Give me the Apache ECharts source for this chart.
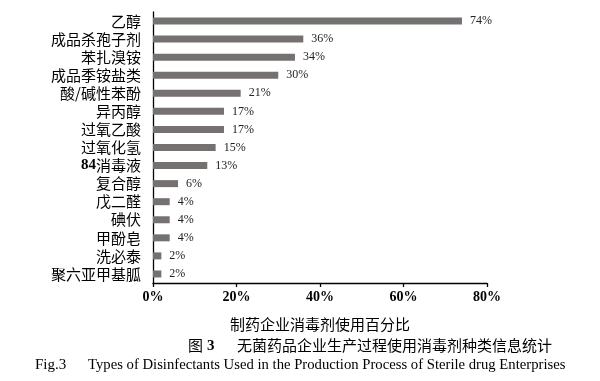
<!DOCTYPE html>
<html><head><meta charset="utf-8">
<script src="https://cdn.jsdelivr.net/npm/echarts@6/dist/echarts.min.js"></script>
<style>html,body{margin:0;padding:0;background:#fff}#c{width:600px;height:381px}</style>
</head><body><div id="c"></div>
<script>
const categories = ['乙醇','成品杀孢子剂','苯扎溴铵','成品季铵盐类','酸/碱性苯酚','异丙醇','过氧乙酸','过氧化氢','84消毒液','复合醇','戊二醛','碘伏','甲酚皂','洗必泰','聚六亚甲基胍'];
const values = [74,36,34,30,21,17,17,15,13,6,4,4,4,2,2];
const xTicks = [0,20,40,60,80];
const axisName = '制药企业消毒剂使用百分比';
const captionCn = '无菌药品企业生产过程使用消毒剂种类信息统计';
const captionEn = 'Types of Disinfectants Used in the Production Process of Sterile drug Enterprises';

const chart = echarts.init(document.getElementById('c'));
const cats = categories.slice().reverse();
const vals = values.slice().reverse();
chart.setOption({
  animation: false,
  grid: {left: 153, right: 113, top: 12, bottom: 98, containLabel: false},
  xAxis: {
    type: 'value', min: 0, max: 80, interval: 20,
    splitLine: {show: false},
    axisLine: {show: true, lineStyle: {color: '#000', width: 1.3}},
    axisTick: {show: true, length: 4, lineStyle: {color: '#000', width: 1.3}},
    axisLabel: {formatter: v => xTicks.includes(v) ? v + '%' : '', color: '#000', fontFamily: 'Liberation Serif', fontWeight: 'bold', fontSize: 14, margin: 7},
    name: axisName, nameLocation: 'middle', nameGap: 34,
    nameTextStyle: {color: '#000', fontFamily: 'Noto Sans CJK SC', fontSize: 15}
  },
  yAxis: {
    type: 'category', data: cats,
    axisLine: {show: true, lineStyle: {color: '#000', width: 1.3}},
    axisTick: {show: false},
    axisLabel: {
      interval: 0,
      color: '#000', fontFamily: 'Noto Sans CJK SC', fontSize: 15, margin: 12,
      formatter: v => v.startsWith('84') ? '{b|84}' + v.slice(2) : v,
      rich: {b: {fontFamily: 'Liberation Serif', fontWeight: 'bold', fontSize: 15, color: '#000'}}
    }
  },
  series: [{
    type: 'bar', data: vals, barWidth: 7,
    itemStyle: {color: '#767171'},
    label: {show: true, position: 'right', distance: 8, formatter: p => p.value + '%', fontFamily: 'Liberation Serif', fontSize: 12, color: '#222'}
  }],
  graphic: [
    {type: 'text', left: 188, top: 338, style: {text: '图', font: '15px "Noto Sans CJK SC"', fill: '#000'}},
    {type: 'text', left: 207, top: 339, style: {text: '3', font: 'bold 15px "Liberation Serif"', fill: '#000'}},
    {type: 'text', left: 237, top: 338, style: {text: captionCn, font: '15px "Noto Sans CJK SC"', fill: '#000'}},
    {type: 'text', left: 35, top: 358, style: {text: 'Fig.3', font: '15px "Liberation Serif"', fill: '#000'}},
    {type: 'text', left: 88, top: 358, style: {text: captionEn, font: '14.7px "Liberation Serif"', fill: '#000'}}
  ]
});
</script></body></html>
